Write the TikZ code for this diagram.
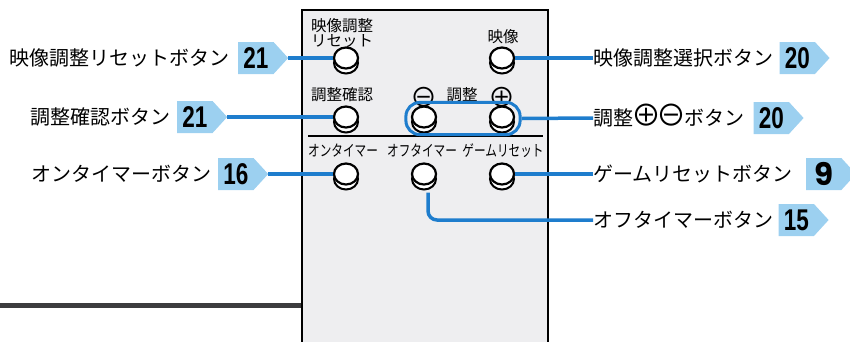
\documentclass[tikz,border=0pt]{standalone}
\usepackage{fontspec}
\usepackage{tikz}
\usetikzlibrary{positioning,shapes.geometric,shapes.symbols,fit}

\newfontfamily\jpfont{Noto Sans CJK JP}
\newfontfamily\numfont{Liberation Sans}
\newfontfamily\ninefont{Poppins}
\newfontfamily\circfont{Noto Sans CJK JP}

\definecolor{tagblue}{RGB}{156,208,240}
\definecolor{lineblue}{RGB}{30,125,205}
\definecolor{panelgray}{RGB}{238,238,240}
\definecolor{cordgray}{RGB}{60,60,62}

\tikzset{
  btn/.style={ellipse, draw=black, line width=2.2pt, fill=white, minimum width=24pt, minimum height=21pt, inner sep=0pt},
  btnbase/.style={btn, line width=2pt},
  tag/.style={signal, signal to=east, signal pointer angle=95, fill=tagblue, minimum height=32pt, minimum width=50pt, inner sep=0pt, anchor=west, font=\numfont\fontsize{30}{30}\selectfont\bfseries},
  conn/.style={draw=lineblue, line width=3.5pt},
  lbl/.style={font=\jpfont\fontsize{20}{20}\selectfont, inner sep=0pt},
  plbl/.style={font=\jpfont\fontsize{15.5}{15}\selectfont, inner sep=0pt},
  circsym/.style={inner sep=0pt, font=\circfont\fontsize{27}{27}\selectfont},
}

\begin{document}
\begin{tikzpicture}[x=1pt, y=-1pt]
    \useasboundingbox (0,0) rectangle (850,341);

    \draw [cordgray, line width=5pt] (0,305) -- (302,305); % cord
    \draw [fill=panelgray, line width=1.2pt] (302,10) rectangle (548,360); % remote panel
    \draw [line width=2.5pt] (308,136) -- (543,136); % separator

    % panel labels
    \node [plbl, align=left, anchor=west] (prst) at (311,33) {映像調整\\リセット};
    \node [plbl] (pimg) at (503,37) {映像};
    \node [plbl, anchor=west] (pchk) at (311,95) {調整確認};
    \node [circsym] (pminus) at (424,97) {⊖};
    \node [plbl] (padj) at (462,95) {調整};
    \node [circsym] (pplus) at (502,97) {⊕};
    \node [plbl] (pon) at (343,151) {\scalebox{0.75}[1]{オンタイマー}};
    \node [plbl] (poff) at (422,151) {\scalebox{0.75}[1]{オフタイマー}};
    \node [plbl] (pgame) at (503,151) {\scalebox{0.75}[1]{ゲームリセット}};

    % buttons
    \foreach \n/\x/\y in {brst/346/58, bimg/502/58, bchk/346/117, bminus/424/117, bplus/502/117, bon/346/174, boff/424/174, bgame/502/174} {
        \node [btnbase] at (\x,\y+5) {};
        \node [btn] (\n) at (\x,\y) {};
    }
    \node [draw=lineblue, line width=3pt, rounded corners=14pt, fit=(bminus)(bplus), inner xsep=5pt, inner ysep=4.5pt, yshift=-1.5pt] (badj) {};

    % left side
    \node [tag] (t21a) at (238,58) {\scalebox{0.75}[1]{21}};
    \node [lbl, left=8pt of t21a] (lrst) {映像調整リセットボタン};
    \node [tag] (t21b) at (177,117) {\scalebox{0.75}[1]{21}};
    \node [lbl, left=6pt of t21b] (lchk) {調整確認ボタン};
    \node [tag] (t16) at (218,174) {\scalebox{0.75}[1]{16}};
    \node [lbl, left=6pt of t16] (lon) {オンタイマーボタン};

    \draw [conn] (t21a.east) -- (brst.west);
    \draw [conn] (t21b.east) -- (bchk.west);
    \draw [conn] (t16.east) -- (bon.west);

    % right side
    \node [lbl, anchor=west] (rimg) at (593,58) {映像調整選択ボタン};
    \node [tag, right=6pt of rimg] (t20a) {\scalebox{0.75}[1]{20}};
    \node [lbl, anchor=west] (radj) at (593,118) {調整\kern-2pt\smash{\raisebox{-1pt}{\circfont\fontsize{30}{30}\selectfont ⊕\kern-5pt⊖}}\kern-2pt ボタン};
    \node [tag, right=9pt of radj] (t20b) {\scalebox{0.75}[1]{20}};
    \node [lbl, anchor=west] (rgame) at (593,174) {ゲームリセットボタン};
    \node [tag, right=13pt of rgame, font=\ninefont\fontsize{31}{31}\selectfont\bfseries] (t9) {9};
    \node [lbl, anchor=west] (roff) at (593,220) {オフタイマーボタン};
    \node [tag, right=5pt of roff] (t15) {\scalebox{0.75}[1]{15}};

    \draw [conn] (bimg.east) -- (rimg.west);
    \draw [conn] (badj.east) -- (radj.west);
    \draw [conn] (bgame.east) -- (rgame.west);
    \draw [conn, rounded corners=9pt] ([xshift=4pt, yshift=-7pt]boff.south) |- (roff.west);
\end{tikzpicture}
\end{document}
